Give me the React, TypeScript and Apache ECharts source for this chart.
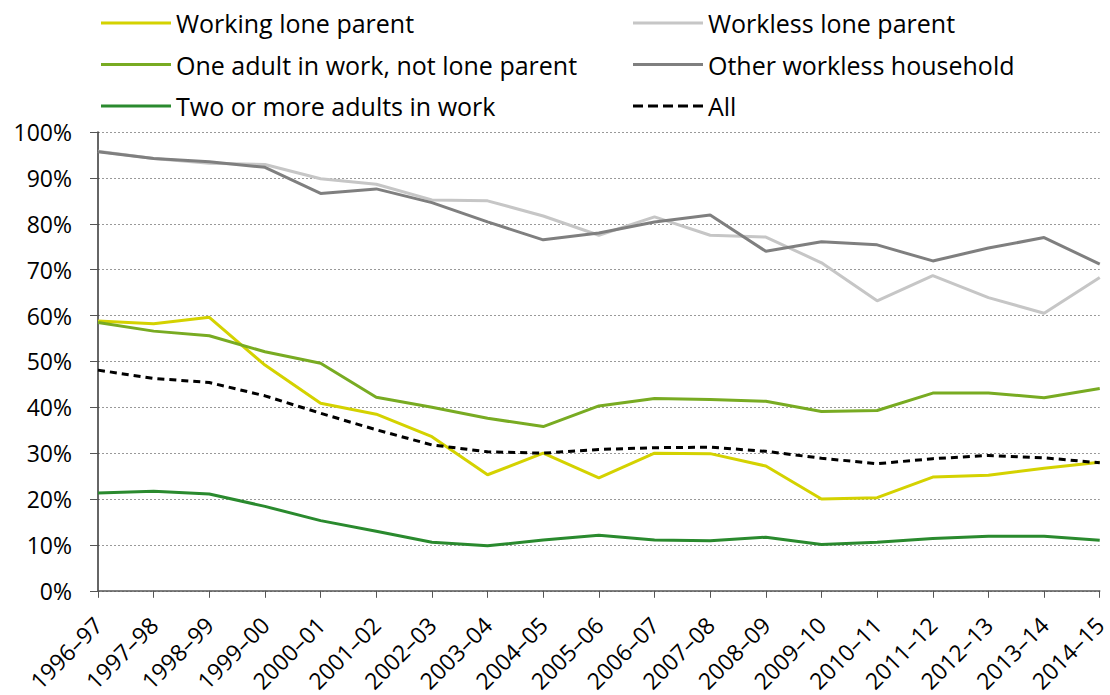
import React, { useEffect, useRef } from "react";
import * as echarts from "echarts";

const categories = [
  "1996–97", "1997–98", "1998–99", "1999–00", "2000–01", "2001–02", "2002–03",
  "2003–04", "2004–05", "2005–06", "2006–07", "2007–08", "2008–09", "2009–10",
  "2010–11", "2011–12", "2012–13", "2013–14", "2014–15",
];

const workingLoneParent = [58.8, 58.2, 59.6, 49.2, 40.9, 38.5, 33.6, 25.3, 30.0, 24.6, 30.0, 29.9, 27.2, 20.0, 20.3, 24.8, 25.2, 26.7, 28.0];
const worklessLoneParent = [95.8, 94.2, 93.2, 92.9, 89.8, 88.6, 85.2, 85.0, 81.7, 77.5, 81.5, 77.5, 77.1, 71.5, 63.2, 68.7, 63.9, 60.5, 68.3];
const oneAdultInWork = [58.5, 56.6, 55.6, 52.1, 49.6, 42.2, 40.0, 37.6, 35.8, 40.3, 41.9, 41.7, 41.3, 39.1, 39.3, 43.1, 43.1, 42.1, 44.1];
const otherWorkless = [95.7, 94.2, 93.5, 92.3, 86.6, 87.6, 84.6, 80.4, 76.5, 78.0, 80.4, 81.9, 74.0, 76.1, 75.4, 71.9, 74.7, 77.0, 71.2];
const twoOrMoreInWork = [21.3, 21.7, 21.1, 18.4, 15.3, 13.0, 10.6, 9.8, 11.1, 12.1, 11.1, 10.9, 11.7, 10.1, 10.6, 11.4, 11.9, 11.9, 11.0];
const allHouseholds = [48.1, 46.3, 45.4, 42.5, 38.7, 35.1, 31.8, 30.3, 30.0, 30.8, 31.2, 31.3, 30.4, 28.9, 27.7, 28.8, 29.5, 29.0, 27.9];

const yTicks = { min: 0, max: 100, interval: 10 };

const FONT = "'Open Sans', 'Noto Sans', sans-serif";

const SOLID_ICON = "path://M0,0H70V3H0Z";
const DASH_ICON = "path://M0,0H10V3H0Z M15,0H25V3H15Z M30,0H40V3H30Z M45,0H55V3H45Z M60,0H70V3H60Z";

export default function App() {
  const ref = useRef<HTMLDivElement>(null);
  useEffect(() => {
    if (!ref.current) return;
    const chart = echarts.init(ref.current, null, { renderer: "svg" });
    const mk = (name: string, data: number[], color: string, dashed = false) => ({
      name,
      type: "line",
      data,
      symbol: "none",
      smooth: false,
      lineStyle: { color, width: 3, type: dashed ? [7, 5] : "solid" },
      itemStyle: { color },
    });
    const legendCommon = {
      orient: "vertical" as const,
      top: 3,
      itemWidth: 70,
      itemHeight: 4,
      itemGap: 11.5,
      icon: SOLID_ICON,
      textStyle: { fontFamily: FONT, fontSize: 25, color: "#000", lineHeight: 30 },
    };
    chart.setOption({
      animation: false,
      backgroundColor: "#fff",
      legend: [
        {
          ...legendCommon,
          left: 96,
          data: ["Working lone parent", "One adult in work, not lone parent", "Two or more adults in work"],
        },
        {
          ...legendCommon,
          left: 628,
          data: ["Workless lone parent", "Other workless household", { name: "All", icon: DASH_ICON }],
        },
      ],
      grid: { left: 98, right: 5, top: 132, bottom: 104, containLabel: false },
      xAxis: {
        type: "category",
        data: categories,
        boundaryGap: false,
        axisLine: { lineStyle: { color: "#555", width: 1.5 } },
        axisTick: { show: true, length: 7, lineStyle: { color: "#555" } },
        axisLabel: { rotate: 45, fontFamily: FONT, fontSize: 23, color: "#000", margin: 30 },
        splitLine: { show: false },
      },
      yAxis: {
        type: "value",
        min: yTicks.min,
        max: yTicks.max,
        interval: yTicks.interval,
        axisLine: { show: true, lineStyle: { color: "#333", width: 1.5 } },
        axisTick: { show: true, length: 8, lineStyle: { color: "#555" } },
        axisLabel: { formatter: "{value}%", fontFamily: FONT, fontSize: 23, color: "#000", margin: 26 },
        splitLine: { show: true, lineStyle: { color: "#999", type: [2, 2], width: 1 } },
      },
      series: [
        mk("Working lone parent", workingLoneParent, "#d4d200"),
        mk("Workless lone parent", worklessLoneParent, "#c6c6c6"),
        mk("One adult in work, not lone parent", oneAdultInWork, "#78ab22"),
        mk("Other workless household", otherWorkless, "#7f7f7f"),
        mk("Two or more adults in work", twoOrMoreInWork, "#2a8a2e"),
        mk("All", allHouseholds, "#000", true),
      ],
    });
    return () => chart.dispose();
  }, []);
  return <div ref={ref} style={{ width: 1110, height: 695, position: "absolute", left: 0, top: 0 }} />;
}
